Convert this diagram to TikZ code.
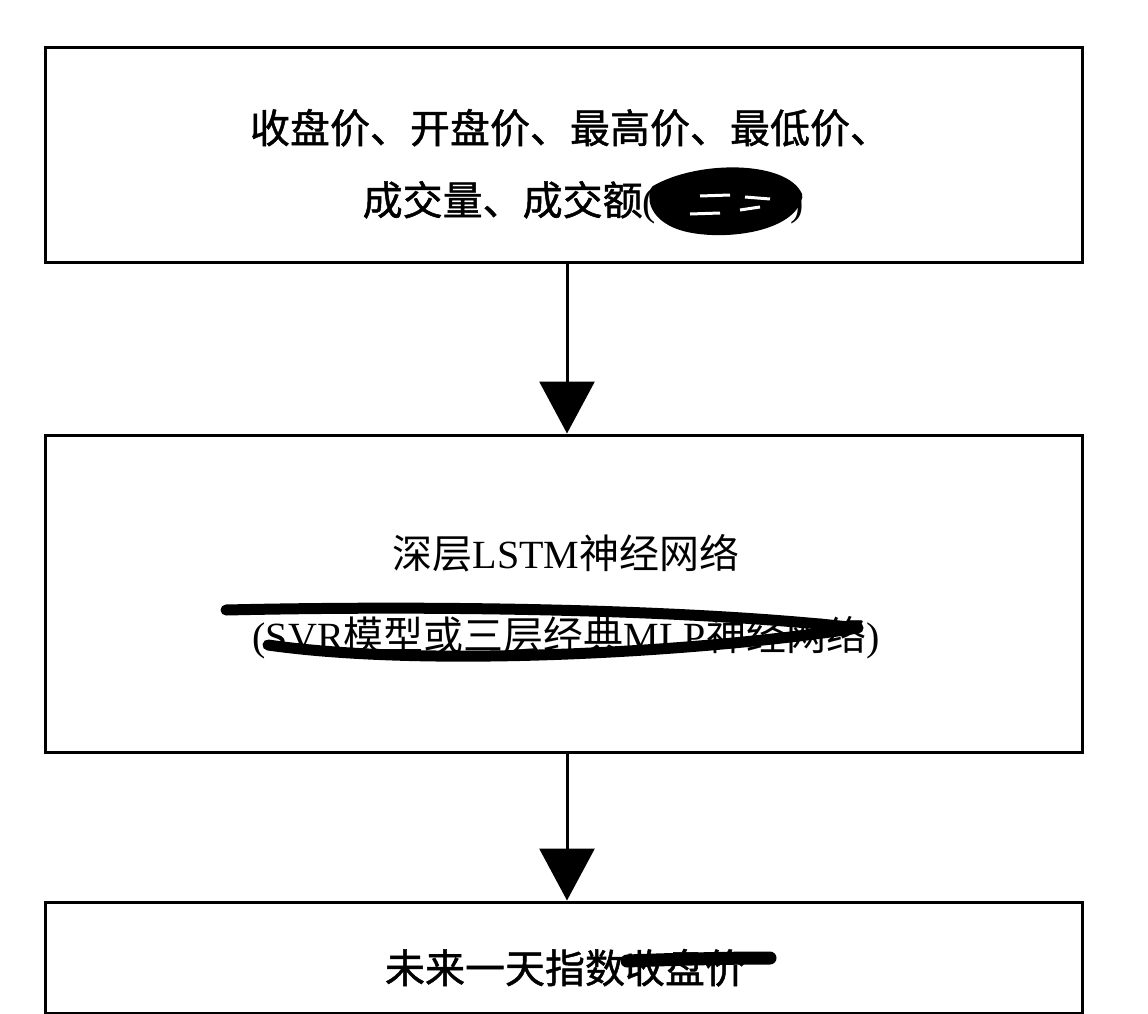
\documentclass[tikz,border=0pt]{standalone}
\usepackage{fontspec}
\setmainfont{Liberation Serif}
\newfontfamily\cjk{Noto Sans CJK SC}
\newfontfamily\cjkb{Noto Sans CJK SC}[FakeBold=1.2]
\usetikzlibrary{arrows.meta}
\tikzset{
  box/.style={draw=black, line width=3pt, minimum width=1037pt, inner sep=0pt},
  txt/.style={anchor=base, inner sep=0pt, font=\fontsize{40pt}{44pt}\selectfont},
  arr/.style={draw=black, line width=3pt, -{Triangle[width=55pt,length=52pt]}},
  scrib/.style={draw=black, line width=11pt, line cap=round, line join=round}
}
\begin{document}
\begin{tikzpicture}[x=1pt,y=-1pt]
\useasboundingbox (0,0) rectangle (1148,1014);
\fill[white] (0,0) rectangle (1148,1014);
% boxes
\node[box, minimum height=214pt] (b1) at (563.5,155) {};
\node[box, minimum height=317pt] (b2) at (563.5,593.5) {};
\node[box, minimum height=111pt] (b3) at (563.5,957.5) {};
% texts
\node[txt] (t1) at (570,143) {\cjkb 收盘价、开盘价、最高价、最低价、};
\node[txt] (t2) at (583,215) {{\cjkb 成交量、成交额}(\hspace{134pt})};
\node[txt] (t3) at (566,568) {{\cjk 深层}LSTM{\cjk 神经网络}};
\node[txt] (t4) at (566,650) {({}SVR{\cjk 模型或三层经典}MLP{\cjk 神经网络})};
\node[txt] (t5) at (565,983) {\cjkb 未来一天指数收盘价};
% arrows
\draw[arr] ([xshift=3.5pt]b1.south) -- ([xshift=3.5pt]b2.north);
\draw[arr] ([xshift=3.5pt]b2.south) -- ([xshift=3.5pt]b3.north);
% scribbles
\draw[scrib, fill=black, line width=9pt] (655,190) .. controls (700,164) and (785,166) .. (798,196)
  .. controls (792,226) and (730,236) .. (690,228) .. controls (660,222) and (650,204) .. (655,190);
\draw[white, line width=3pt] (700,196) -- (730,195) (745,197) -- (770,199) (690,214) -- (720,213) (740,210) -- (760,207);
\draw[scrib] (226,610) .. controls (450,605) and (700,610) .. (858,628)
  .. controls (700,652) and (430,668) .. (268,645);
\draw[scrib, line width=13pt] (627,961) .. controls (680,959) and (730,958) .. (770,958);
\end{tikzpicture}
\end{document}
